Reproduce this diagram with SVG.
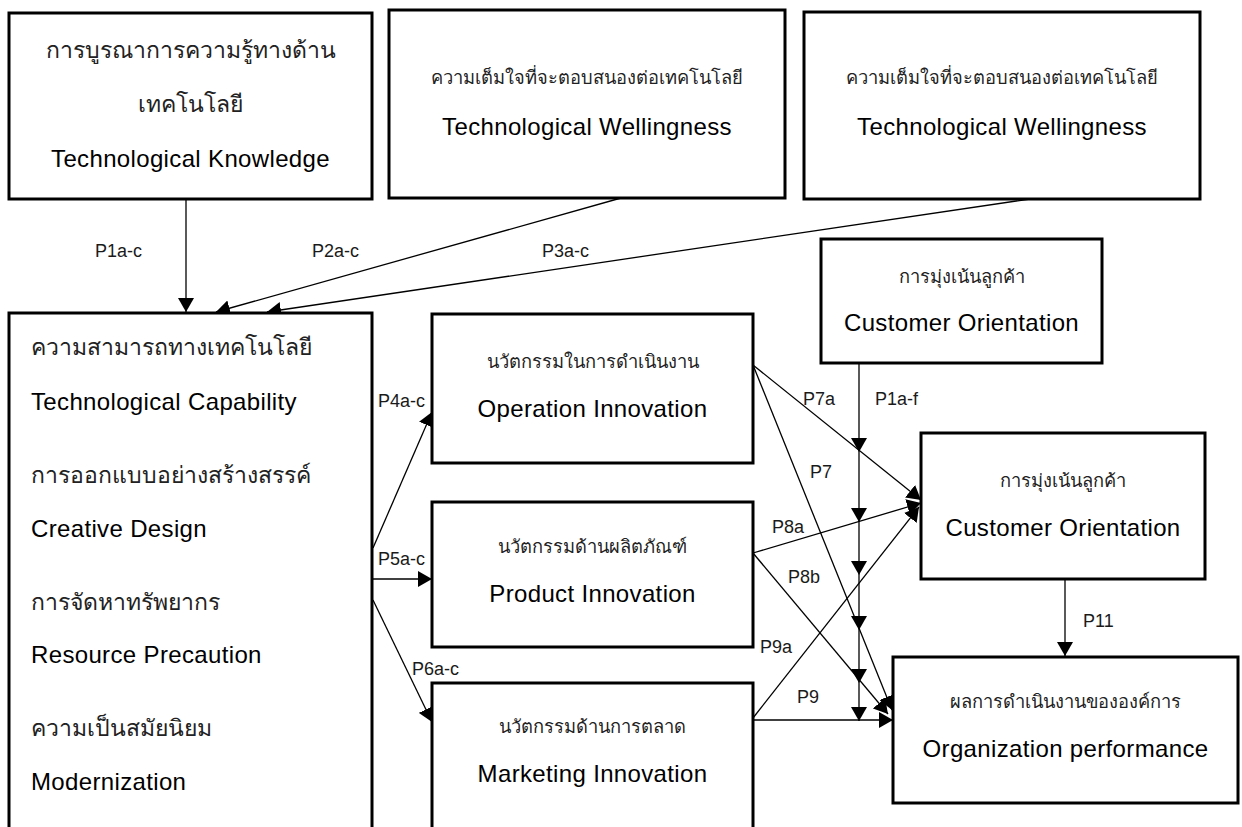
<svg xmlns="http://www.w3.org/2000/svg" width="1242" height="827" viewBox="0 0 1242 827">
  <style>
    .box { fill: #ffffff; stroke: #000000; stroke-width: 3; }
    .th { font-family: "Liberation Sans", "Noto Sans", sans-serif; fill: #222222; }
    .thL { font-size: 23px; }
    .thS { font-size: 18.3px; }
    .en { font-family: "Liberation Sans", Arial, sans-serif; font-size: 24px; letter-spacing: 0.35px; fill: #000000; }
    .lbl { font-family: "Liberation Sans", Arial, sans-serif; font-size: 18px; fill: #1a1a1a; }
    .c { text-anchor: middle; }
    .edge { fill: none; stroke: #000000; stroke-width: 1.3; marker-end: url(#arrow); }
  </style>
  <defs>
    <marker id="arrow" markerUnits="userSpaceOnUse" markerWidth="14" markerHeight="16" viewBox="0 -8 14 16" refX="14" refY="0" orient="auto">
      <path d="M0,-8 L14,0 L0,8 z" fill="#000000"/>
    </marker>
  </defs>
  <rect width="1242" height="827" fill="#ffffff"/>

  <!-- connectors -->
  <g id="connectors">
    <line class="edge" x1="186" y1="199" x2="186" y2="312"/>
    <line class="edge" x1="621" y1="198" x2="216" y2="312"/>
    <line class="edge" x1="1030" y1="199" x2="267" y2="312"/>
    <line class="edge" x1="373" y1="548" x2="432" y2="412"/>
    <line class="edge" x1="373" y1="579" x2="432" y2="579"/>
    <line class="edge" x1="373" y1="600" x2="432" y2="722"/>
    <line class="edge" x1="753" y1="365" x2="921" y2="500"/>
    <line class="edge" x1="753" y1="365" x2="892" y2="710"/>
    <line class="edge" x1="753" y1="553" x2="921" y2="503"/>
    <line class="edge" x1="753" y1="553" x2="888" y2="714"/>
    <line class="edge" x1="753" y1="718" x2="919" y2="507"/>
    <line class="edge" x1="753" y1="720" x2="893" y2="720"/>
    <line class="edge" x1="859" y1="363" x2="859" y2="452"/>
    <line class="edge" x1="859" y1="452" x2="859" y2="522"/>
    <line class="edge" x1="859" y1="522" x2="859" y2="575"/>
    <line class="edge" x1="859" y1="575" x2="859" y2="630"/>
    <line class="edge" x1="859" y1="630" x2="859" y2="683"/>
    <line class="edge" x1="859" y1="683" x2="859" y2="721"/>
    <line class="edge" x1="1065" y1="579" x2="1065" y2="656"/>
    <text class="lbl" x="95" y="257">P1a-c</text>
    <text class="lbl" x="312" y="257">P2a-c</text>
    <text class="lbl" x="542" y="257">P3a-c</text>
    <text class="lbl" x="378" y="407">P4a-c</text>
    <text class="lbl" x="378" y="565">P5a-c</text>
    <text class="lbl" x="412" y="675">P6a-c</text>
    <text class="lbl" x="803" y="405">P7a</text>
    <text class="lbl" x="875" y="405">P1a-f</text>
    <text class="lbl" x="810" y="478">P7</text>
    <text class="lbl" x="772" y="533">P8a</text>
    <text class="lbl" x="788" y="583">P8b</text>
    <text class="lbl" x="760" y="653">P9a</text>
    <text class="lbl" x="797" y="703">P9</text>
    <text class="lbl" x="1083" y="627">P11</text>
  </g>

  <!-- technological knowledge -->
  <g id="tech-knowledge">
    <rect class="box" x="9" y="13" width="363" height="186"/>
    <text class="th thL c" x="190.5" y="58">การบูรณาการความรู้ทางด้าน</text>
    <text class="th thL c" x="190.5" y="112">เทคโนโลยี</text>
    <text class="en c" x="190.5" y="167">Technological Knowledge</text>
  </g>

  <!-- technological wellingness (1) -->
  <g id="tech-wellingness-1">
    <rect class="box" x="389" y="10" width="396" height="188"/>
    <text class="th thS c" x="587" y="84">ความเต็มใจที่จะตอบสนองต่อเทคโนโลยี</text>
    <text class="en c" x="587" y="135">Technological Wellingness</text>
  </g>

  <!-- technological wellingness (2) -->
  <g id="tech-wellingness-2">
    <rect class="box" x="804" y="12" width="396" height="187"/>
    <text class="th thS c" x="1002" y="84">ความเต็มใจที่จะตอบสนองต่อเทคโนโลยี</text>
    <text class="en c" x="1002" y="135">Technological Wellingness</text>
  </g>

  <!-- technological capability -->
  <g id="tech-capability">
    <rect class="box" x="9" y="313" width="363" height="530"/>
    <text class="th thL" x="31" y="355">ความสามารถทางเทคโนโลยี</text>
    <text class="en" x="31" y="410">Technological Capability</text>
    <text class="th thL" x="31" y="483">การออกแบบอย่างสร้างสรรค์</text>
    <text class="en" x="31" y="537">Creative Design</text>
    <text class="th thL" x="31" y="610">การจัดหาทรัพยากร</text>
    <text class="en" x="31" y="663">Resource Precaution</text>
    <text class="th thL" x="31" y="736">ความเป็นสมัยนิยม</text>
    <text class="en" x="31" y="790">Modernization</text>
  </g>

  <!-- operation innovation -->
  <g id="operation-innovation">
    <rect class="box" x="432" y="314" width="321" height="149"/>
    <text class="th thS c" x="592.5" y="368">นวัตกรรมในการดำเนินงาน</text>
    <text class="en c" x="592.5" y="417">Operation Innovation</text>
  </g>

  <!-- product innovation -->
  <g id="product-innovation">
    <rect class="box" x="432" y="502" width="321" height="145"/>
    <text class="th thS c" x="592.5" y="553">นวัตกรรมด้านผลิตภัณฑ์</text>
    <text class="en c" x="592.5" y="602">Product Innovation</text>
  </g>

  <!-- marketing innovation -->
  <g id="marketing-innovation">
    <rect class="box" x="432" y="683" width="321" height="160"/>
    <text class="th thS c" x="592.5" y="733">นวัตกรรมด้านการตลาด</text>
    <text class="en c" x="592.5" y="782">Marketing Innovation</text>
  </g>

  <!-- customer orientation (moderator) -->
  <g id="customer-orientation-top">
    <rect class="box" x="821" y="239" width="281" height="124"/>
    <text class="th thS c" x="961.5" y="283">การมุ่งเน้นลูกค้า</text>
    <text class="en c" x="961.5" y="331">Customer Orientation</text>
  </g>

  <!-- customer orientation (mediator) -->
  <g id="customer-orientation">
    <rect class="box" x="921" y="433" width="284" height="146"/>
    <text class="th thS c" x="1063" y="487">การมุ่งเน้นลูกค้า</text>
    <text class="en c" x="1063" y="536">Customer Orientation</text>
  </g>

  <!-- organization performance -->
  <g id="organization-performance">
    <rect class="box" x="893" y="657" width="345" height="146"/>
    <text class="th thS c" x="1065.5" y="708">ผลการดำเนินงานขององค์การ</text>
    <text class="en c" x="1065.5" y="757">Organization performance</text>
  </g>
</svg>
